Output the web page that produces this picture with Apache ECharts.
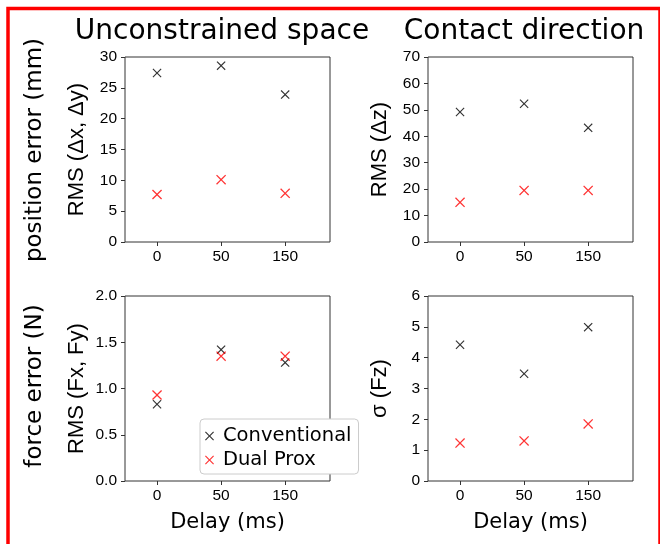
<!DOCTYPE html>
<html>
<head>
<meta charset="utf-8">
<script src="https://cdn.jsdelivr.net/npm/echarts@6/dist/echarts.min.js"></script>
<style>
  html, body { margin: 0; padding: 0; background: #fff; }
  #myChart { width: 660px; height: 544px; }
</style>
</head>
<body>
<div id="myChart"></div>
<script>
// delays on the x axis (drawn at positions 0, 1, 2)
var delays = ['0', '50', '150'];

// RMS (Δx, Δy), mm
var posConv = [27.4, 28.6, 23.9];
var posDual = [7.7, 10.1, 7.9];
// RMS (Δz), mm
var dzConv = [49.2, 52.3, 43.2];
var dzDual = [15.0, 19.5, 19.5];
// RMS (Fx, Fy), N
var fxyConv = [0.83, 1.42, 1.28];
var fxyDual = [0.93, 1.35, 1.35];
// σ (Fz), N
var fzConv = [4.42, 3.48, 4.99];
var fzDual = [1.23, 1.30, 1.85];

var yMax = [30, 70, 2, 6];
var yStep = [5, 10, 0.5, 1];
var yNames = ['RMS (Δx, Δy)', 'RMS (Δz)', 'RMS (Fx, Fy)', 'σ (Fz)'];
var seriesNames = ['Conventional', 'Dual Prox'];

// filled "x" marker so the legend icon shows too
var cross = 'path://M0,0.9L0.9,0L5,4.1L9.1,0L10,0.9L5.9,5L10,9.1L9.1,10L5,5.9L0.9,10L0,9.1L4.1,5Z';

var gridPos = [
    {left: 125, top: 57},
    {left: 428, top: 57},
    {left: 125, top: 296},
    {left: 428, top: 296}
];

function pts(arr) {
    var out = [];
    for (var i = 0; i < arr.length; i++) {
        out.push([i, arr[i]]);
    }
    return out;
}

var grids = [], xAxes = [], yAxes = [], series = [];
var panels = [[posConv, posDual], [dzConv, dzDual], [fxyConv, fxyDual], [fzConv, fzDual]];

for (var k = 0; k < 4; k++) {
    grids.push({
        left: gridPos[k].left, top: gridPos[k].top, width: 205, height: 185,
        show: true, borderColor: '#333', borderWidth: 1, backgroundColor: 'transparent'
    });
    xAxes.push({
        type: 'value', gridIndex: k, min: -0.5, max: 2.7,
        name: k >= 2 ? 'Delay (ms)' : '',
        nameLocation: 'middle', nameGap: 31,
        nameTextStyle: {fontFamily: 'DejaVu Sans', fontSize: 21, color: '#000'},
        axisLine: {show: false, onZero: false},
        axisTick: {show: true, length: 4, lineStyle: {color: '#333'}, customValues: [0, 1, 2]},
        axisLabel: {
            customValues: [0, 1, 2], margin: 7,
            fontFamily: 'Liberation Sans', fontSize: 15.5, color: '#000',
            formatter: function (v) { return delays[Math.round(v)]; }
        },
        splitLine: {show: false}
    });
    yAxes.push({
        type: 'value', gridIndex: k, min: 0, max: yMax[k], interval: yStep[k],
        name: yNames[k], nameLocation: 'middle', nameGap: 37,
        nameTextStyle: {fontFamily: 'Liberation Sans', fontSize: 22, color: '#000'},
        axisLine: {show: false, onZero: false},
        axisTick: {show: true, length: 4, lineStyle: {color: '#333'}},
        axisLabel: {
            margin: 8, fontFamily: 'Liberation Sans', fontSize: 15.5, color: '#000',
            formatter: k === 2 ? function (v) { return v.toFixed(1); } : '{value}'
        },
        splitLine: {show: false}
    });
    series.push({
        name: seriesNames[0], type: 'scatter', xAxisIndex: k, yAxisIndex: k,
        symbol: cross, symbolSize: 9, itemStyle: {color: '#000'},
        data: pts(panels[k][0])
    });
    series.push({
        name: seriesNames[1], type: 'scatter', xAxisIndex: k, yAxisIndex: k,
        symbol: cross, symbolSize: 10, itemStyle: {color: '#ff0000'},
        data: pts(panels[k][1])
    });
}

var option = {
    animation: false,
    backgroundColor: '#fff',
    title: [
        {text: 'Unconstrained space', left: 222, top: 18, textAlign: 'center', padding: 0,
         textStyle: {fontFamily: 'DejaVu Sans', fontSize: 28, fontWeight: 'normal', color: '#000'}},
        {text: 'Contact direction', left: 524, top: 18, textAlign: 'center', padding: 0,
         textStyle: {fontFamily: 'DejaVu Sans', fontSize: 28, fontWeight: 'normal', color: '#000'}}
    ],
    legend: {
        data: [
            {name: 'Conventional', icon: cross},
            {name: 'Dual Prox', icon: cross}
        ],
        orient: 'vertical', left: 200, top: 419,
        itemWidth: 17, itemHeight: 9, itemGap: 4,
        padding: [7, 7, 4, 5],
        backgroundColor: '#fff', borderColor: '#ccc', borderWidth: 1, borderRadius: 4,
        textStyle: {fontFamily: 'DejaVu Sans', fontSize: 19.5, color: '#000', lineHeight: 20}
    },
    graphic: [
        {type: 'rect', shape: {x: 8, y: 8.5, width: 652, height: 600},
         style: {fill: 'none', stroke: '#ff0000', lineWidth: 3.5}, z: 100},
        {type: 'text', x: 35, y: 150, rotation: Math.PI / 2,
         style: {text: 'position error (mm)', fontFamily: 'DejaVu Sans', fontSize: 23,
                 fill: '#000', align: 'center', verticalAlign: 'middle'}},
        {type: 'text', x: 35, y: 386, rotation: Math.PI / 2,
         style: {text: 'force error (N)', fontFamily: 'DejaVu Sans', fontSize: 23,
                 fill: '#000', align: 'center', verticalAlign: 'middle'}}
    ],
    grid: grids,
    xAxis: xAxes,
    yAxis: yAxes,
    series: series
};

var myChart = echarts.init(document.getElementById('myChart'));
myChart.setOption(option);
</script>
</body>
</html>
